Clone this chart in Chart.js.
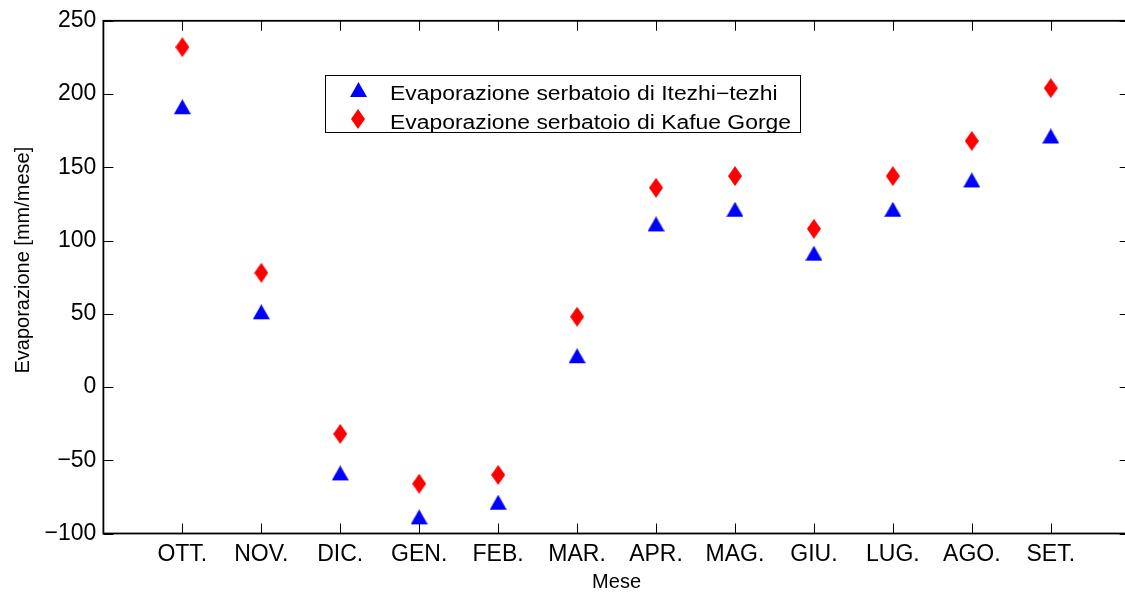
<!DOCTYPE html>
<html>
<head>
<meta charset="utf-8">
<script src="https://cdn.jsdelivr.net/npm/chart.js@4.4.1/dist/chart.umd.min.js"></script>
<style>
  html, body { margin: 0; padding: 0; background: #fff; overflow: hidden; }
  #wrap { position: relative; width: 1140px; height: 592px; }
</style>
</head>
<body>
<div id="wrap"><canvas id="c" width="1140" height="592"></canvas></div>
<script>
// Mesi (anno idrologico da ottobre a settembre)
const months = ['OTT.', 'NOV.', 'DIC.', 'GEN.', 'FEB.', 'MAR.', 'APR.', 'MAG.', 'GIU.', 'LUG.', 'AGO.', 'SET.'];
// Evaporazione mensile [mm/mese]
const itezhiTezhi = [190, 50, -60, -90, -80, 20, 110, 120, 90, 120, 140, 170];
const kafueGorge = [232, 78, -32, -66, -60, 48, 136, 144, 108, 144, 168, 204];
const yTickValues = [-100, -50, 0, 50, 100, 150, 200, 250];
const seriesNames = ['Evaporazione serbatoio di Itezhi\u2212tezhi', 'Evaporazione serbatoio di Kafue Gorge'];
const xTitle = 'Mese';
const yTitle = 'Evaporazione [mm/mese]';

const FONT = '"Liberation Sans", Arial, Helvetica, sans-serif';

// Marker stile MATLAB: triangolo '^' e rombo 'd'
function triangleMarker(color) {
  const c = document.createElement('canvas');
  c.width = 17; c.height = 19;
  const g = c.getContext('2d');
  g.fillStyle = color;
  g.beginPath();
  g.moveTo(8.5, 0); g.lineTo(17, 15); g.lineTo(0, 15); g.closePath();
  g.fill();
  return c;
}
function diamondMarker(color) {
  const c = document.createElement('canvas');
  c.width = 14; c.height = 20;
  const g = c.getContext('2d');
  g.fillStyle = color;
  g.beginPath();
  g.moveTo(7, 0); g.lineTo(14, 10); g.lineTo(7, 20); g.lineTo(0, 10); g.closePath();
  g.fill();
  return c;
}
const triBlue = triangleMarker('#0000ff');
const diaRed = diamondMarker('#ff0000');

const toPoints = arr => arr.map((v, i) => ({ x: i + 1, y: v }));

function fmtNum(v) { return v < 0 ? '\u2212' + Math.abs(v) : String(v); }

// Riquadro con tacche interne su tutti e quattro i lati, titolo asse y e legenda
const boxPlugin = {
  id: 'matlabBox',
  afterDraw(chart) {
    const { ctx, chartArea: a, scales } = chart;
    const xs = scales.x, ys = scales.y;
    ctx.save();
    ctx.strokeStyle = '#000';
    ctx.lineWidth = 1;
    const tl = 10;
    ctx.beginPath();
    xs.ticks.forEach(t => {
      const px = Math.round(xs.getPixelForValue(t.value)) + 0.5;
      ctx.moveTo(px, a.bottom); ctx.lineTo(px, a.bottom - tl);
      ctx.moveTo(px, a.top); ctx.lineTo(px, a.top + tl);
    });
    ys.ticks.forEach(t => {
      const py = Math.round(ys.getPixelForValue(t.value)) + 0.5;
      ctx.moveTo(a.left, py); ctx.lineTo(a.left + tl, py);
      ctx.moveTo(a.right, py); ctx.lineTo(a.right - tl, py);
    });
    ctx.stroke();
    ctx.lineWidth = 1.8;
    ctx.strokeRect(a.left, a.top, a.right - a.left, a.bottom - a.top);

    // titolo asse y
    ctx.fillStyle = '#000';
    ctx.font = '20px ' + FONT;
    ctx.textAlign = 'center';
    ctx.textBaseline = 'middle';
    ctx.translate(23, (a.top + a.bottom) / 2 - 17);
    ctx.rotate(-Math.PI / 2);
    ctx.fillText(yTitle, 0, 0);
    ctx.restore();

    // legenda
    ctx.save();
    const lx = 325, ly = 75, lw = 475, lh = 57;
    ctx.fillStyle = '#fff';
    ctx.fillRect(lx, ly, lw, lh);
    ctx.strokeStyle = '#000';
    ctx.lineWidth = 1;
    ctx.strokeRect(lx + 0.5, ly + 0.5, lw, lh);
    const markers = [triBlue, diaRed];
    const rowY = [ly + 16, ly + 44];
    const baseY = [ly + 24.5, ly + 53.5];
    chart.data.datasets.forEach((ds, i) => {
      const m = markers[i];
      ctx.drawImage(m, Math.round(358 - m.width / 2), Math.round(rowY[i] - m.height / 2));
      ctx.save();
      ctx.translate(390, baseY[i]);
      ctx.scale(1.145, 1);
      ctx.font = '20px ' + FONT;
      ctx.fillStyle = '#000';
      ctx.textAlign = 'left';
      ctx.textBaseline = 'alphabetic';
      ctx.fillText(ds.label, 0, 0);
      ctx.restore();
    });
    ctx.restore();
  }
};

new Chart(document.getElementById('c'), {
  type: 'scatter',
  data: {
    datasets: [
      { label: seriesNames[0], data: toPoints(itezhiTezhi), pointStyle: triBlue, backgroundColor: '#0000ff', borderColor: '#0000ff', showLine: false },
      { label: seriesNames[1], data: toPoints(kafueGorge), pointStyle: diaRed, backgroundColor: '#ff0000', borderColor: '#ff0000', showLine: false }
    ]
  },
  options: {
    responsive: false,
    animation: false,
    devicePixelRatio: 1,
    layout: { padding: { top: 20.7, right: 10.3, left: 0, bottom: 0 } },
    plugins: { legend: { display: false }, tooltip: { enabled: false } },
    elements: { point: { radius: 9, hoverRadius: 9 } },
    scales: {
      x: {
        type: 'linear',
        min: 0, max: 13,
        afterBuildTicks: s => { s.ticks = months.map((m, i) => ({ value: i + 1 })); },
        afterFit: s => { s.height = 58.5; },
        grid: { display: false, drawTicks: false },
        border: { display: false },
        ticks: {
          autoSkip: false, maxRotation: 0, minRotation: 0,
          padding: 7,
          color: '#000',
          font: { family: FONT, size: 23 },
          callback: v => months[v - 1]
        },
        title: {
          display: true, text: xTitle, color: '#000',
          font: { family: FONT, size: 20, lineHeight: 1 },
          padding: { top: 0, bottom: 0 }
        }
      },
      y: {
        min: -100, max: 250,
        afterBuildTicks: s => { s.ticks = yTickValues.map(v => ({ value: v })); },
        afterFit: s => { s.width = 103.4; },
        grid: { display: false, drawTicks: false },
        border: { display: false },
        ticks: {
          padding: 7,
          color: '#000',
          font: { family: FONT, size: 23 },
          callback: v => fmtNum(v)
        }
      }
    }
  },
  plugins: [boxPlugin]
});
</script>
</body>
</html>
